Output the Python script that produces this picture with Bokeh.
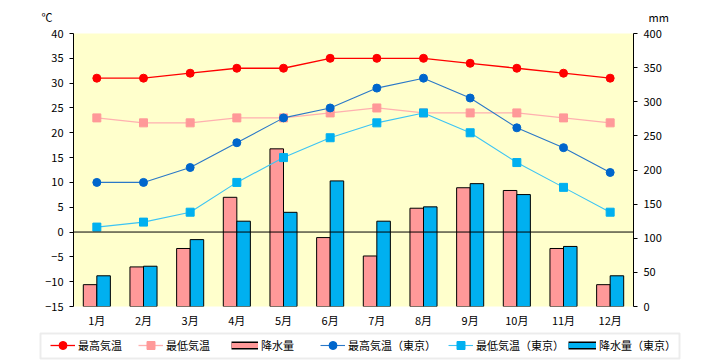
from bokeh.plotting import figure
from bokeh.layouts import column
from bokeh.models import (FactorRange, Range1d, LinearAxis, Span, Legend, LegendItem,
                          Label, FixedTicker, ColumnDataSource, BoxAnnotation)
from bokeh.transform import dodge
from bokeh.embed import file_html
from bokeh.resources import INLINE

months = ["1月", "2月", "3月", "4月", "5月", "6月", "7月", "8月", "9月", "10月", "11月", "12月"]
max_temp = [31, 31, 32, 33, 33, 35, 35, 35, 34, 33, 32, 31]
min_temp = [23, 22, 22, 23, 23, 24, 25, 24, 24, 24, 23, 22]
rain = [32, 58, 85, 160, 231, 101, 74, 144, 174, 170, 85, 32]
tokyo_max = [10, 10, 13, 18, 23, 25, 29, 31, 27, 21, 17, 12]
tokyo_min = [1, 2, 4, 10, 15, 19, 22, 24, 20, 14, 9, 4]
tokyo_rain = [45, 59, 98, 125, 138, 184, 125, 146, 180, 164, 88, 45]

temp_ticks = list(range(-15, 45, 5))
rain_ticks = list(range(0, 450, 50))
legend_labels = ["最高気温", "最低気温", "降水量", "最高気温（東京）", "最低気温（東京）", "降水量（東京）"]

src = ColumnDataSource(dict(month=months, max_temp=max_temp, min_temp=min_temp, rain=rain,
                            tokyo_max=tokyo_max, tokyo_min=tokyo_min, tokyo_rain=tokyo_rain))

FONT = "Noto Sans CJK JP"
W = 716

C_MAX, C_MAX_L = "#FF0000", "#FF0000"
C_MIN, C_MIN_L = "#FF9999", "#FFB0B0"
C_TMAX, C_TMAX_L = "#0066CC", "#2A78C8"
C_TMIN, C_TMIN_L = "#00B0F0", "#3CC4F4"
C_BAR1, C_BAR2 = "#FF9999", "#00B0F0"


def draw_lines(fig, **kw):
    l1 = fig.line("month", "max_temp", source=src, line_color=C_MAX_L, line_width=1.3, **kw)
    m1 = fig.scatter("month", "max_temp", source=src, marker="circle", size=8,
                     fill_color=C_MAX, line_color=C_MAX, **kw)
    l2 = fig.line("month", "min_temp", source=src, line_color=C_MIN_L, line_width=1.3, **kw)
    m2 = fig.scatter("month", "min_temp", source=src, marker="square", size=8,
                     fill_color=C_MIN, line_color=C_MIN, **kw)
    l3 = fig.line("month", "tokyo_max", source=src, line_color=C_TMAX_L, line_width=1.1, **kw)
    m3 = fig.scatter("month", "tokyo_max", source=src, marker="circle", size=8,
                     fill_color=C_TMAX, line_color=C_TMAX, **kw)
    l4 = fig.line("month", "tokyo_min", source=src, line_color=C_TMIN_L, line_width=1.1, **kw)
    m4 = fig.scatter("month", "tokyo_min", source=src, marker="square", size=8,
                     fill_color=C_TMIN, line_color=C_TMIN, **kw)
    return (l1, m1), (l2, m2), (l3, m3), (l4, m4)


# ---------- top strip with unit labels ----------
top = figure(width=W, height=25, x_range=Range1d(0, W), y_range=Range1d(0, 25),
             output_backend="svg", toolbar_location=None, min_border=0,
             x_axis_location=None, y_axis_location=None, frame_align=False)
top.grid.visible = False
top.outline_line_color = None
top.add_layout(Label(x=41, y=9, text="℃", text_font=FONT, text_font_size="11px",
                     text_baseline="middle", text_color="black"))
top.add_layout(Label(x=648, y=9, text="mm", text_font=FONT, text_font_size="11px",
                     text_baseline="middle", text_color="black"))

# ---------- main chart ----------
p = figure(width=W, height=305, x_range=FactorRange(*months, range_padding=0),
           y_range=Range1d(-15, 40), output_backend="svg", toolbar_location=None,
           min_border_left=73, min_border_right=W - 633, min_border_top=8, min_border_bottom=22,
           frame_align=False)
p.extra_y_ranges = {"mm": Range1d(0, 400)}
p.background_fill_color = "#FFFFCC"
p.border_fill_color = "white"
p.outline_line_color = None
p.xgrid.visible = False
p.ygrid.visible = False

p.yaxis.ticker = FixedTicker(ticks=temp_ticks)
ax_r = LinearAxis(y_range_name="mm", ticker=FixedTicker(ticks=rain_ticks))
p.add_layout(ax_r, "right")
for ax in (p.yaxis[0], ax_r):
    ax.minor_tick_line_color = None
    ax.major_tick_in = 0
    ax.major_tick_out = 4
    ax.axis_line_color = "black"
    ax.major_tick_line_color = "black"
    ax.major_label_text_font = FONT
    ax.major_label_text_font_size = "11px"
    ax.major_label_text_color = "black"
    ax.major_label_standoff = 6

p.xaxis.axis_line_color = None
p.xaxis.major_tick_line_color = None
p.xaxis.major_tick_out = 0
p.xaxis.major_tick_in = 0
p.xaxis.major_label_text_font = FONT
p.xaxis.major_label_text_font_size = "11px"
p.xaxis.major_label_text_color = "black"
p.xaxis.major_label_standoff = 5

p.vbar(x=dodge("month", -0.145, range=p.x_range), top="rain", bottom=0, width=0.29,
       source=src, y_range_name="mm", fill_color=C_BAR1, line_color="black", line_width=1)
p.vbar(x=dodge("month", 0.145, range=p.x_range), top="tokyo_rain", bottom=0, width=0.29,
       source=src, y_range_name="mm", fill_color=C_BAR2, line_color="black", line_width=1)
p.add_layout(Span(location=0, dimension="width", line_color="black", line_width=1))
draw_lines(p)

# ---------- legend strip ----------
leg = figure(width=W, height=30, x_range=FactorRange(*months), y_range=Range1d(0, 30),
             output_backend="svg", toolbar_location=None, min_border=0,
             x_axis_location=None, y_axis_location=None, frame_align=False)
leg.extra_y_ranges = {"far": Range1d(1000, 1001)}
leg.grid.visible = False
leg.outline_line_color = None


def px_to_cat(v):
    return v * len(months) / W


leg.add_layout(BoxAnnotation(left=px_to_cat(40), right=px_to_cat(679), bottom=2, top=27,
                             fill_color="white", fill_alpha=1, line_color="#C0C0C0",
                             line_width=2))

kw = dict(y_range_name="far")
(ll1, lm1), (ll2, lm2), (ll3, lm3), (ll4, lm4) = draw_lines(leg, **kw)
# bar samples: outlined swatch
bk1 = leg.line("month", "rain", source=src, line_color="black", line_width=8, **kw)
bf1 = leg.line("month", "rain", source=src, line_color=C_BAR1, line_width=5, **kw)
bk2 = leg.line("month", "tokyo_rain", source=src, line_color="black", line_width=8, **kw)
bf2 = leg.line("month", "tokyo_rain", source=src, line_color=C_BAR2, line_width=5, **kw)

item_renderers = [[ll1, lm1], [ll2, lm2], [bk1, bf1], [ll3, lm3], [ll4, lm4], [bk2, bf2]]
item_x = [50, 138, 231, 320, 448, 568]
item_w = [25, 25, 27, 25, 25, 28]

for lab, rends, x0, gw in zip(legend_labels, item_renderers, item_x, item_w):
    lg = Legend(items=[LegendItem(label=lab, renderers=rends)], location=(x0, 5),
                orientation="horizontal")
    lg.label_text_font = FONT
    lg.label_text_font_size = "11px"
    lg.label_text_color = "black"
    lg.glyph_width = gw
    lg.glyph_height = 20
    lg.label_height = 20
    lg.label_standoff = 3
    lg.padding = 0
    lg.margin = 0
    lg.spacing = 0
    lg.border_line_color = None
    lg.background_fill_alpha = 0
    leg.add_layout(lg, "center")

layout = column(top, p, leg, spacing=0)
open("out.html", "w").write(file_html(layout, INLINE))
